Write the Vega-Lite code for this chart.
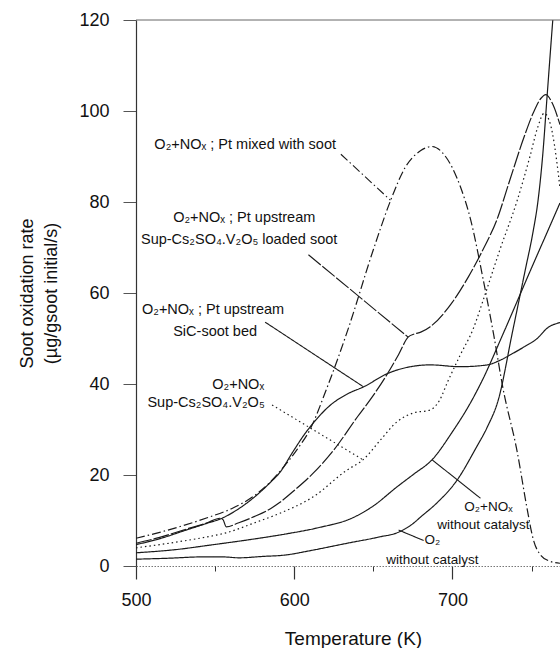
{
  "$schema": "https://vega.github.io/schema/vega-lite/v6.json",
  "width": 424,
  "height": 546,
  "autosize": {"type": "none"},
  "padding": {"left": 136, "top": 20, "right": 0, "bottom": 82},
  "background": "white",
  "config": {
    "view": {"stroke": null},
    "font": "Liberation Sans",
    "axis": {"grid": false, "labelFont": "Liberation Sans", "titleFont": "Liberation Sans", "labelColor": "#111", "titleColor": "#111", "titleFontWeight": "normal"},
    "axisY": {"tickSize": 13, "tickColor": "#555", "tickWidth": 1, "labelFontSize": 18, "labelPadding": 14, "domainColor": "#333", "domainWidth": 1.2, "titleFontSize": 18, "titleLineHeight": 24, "titleX": -100, "titleY": 273, "titleAngle": -90, "titleBaseline": "bottom", "titleAlign": "center"}
  },
  "datasets": {
    "curves": [
      {"s": "Pt mixed", "x": 500, "y": 6.1}, {"s": "Pt mixed", "x": 515, "y": 7.4}, {"s": "Pt mixed", "x": 530, "y": 8.9}, {"s": "Pt mixed", "x": 545, "y": 10.6}, {"s": "Pt mixed", "x": 561, "y": 12.7}, {"s": "Pt mixed", "x": 575, "y": 15.5}, {"s": "Pt mixed", "x": 585, "y": 18.5}, {"s": "Pt mixed", "x": 591, "y": 20.8}, {"s": "Pt mixed", "x": 602, "y": 25.7}, {"s": "Pt mixed", "x": 610, "y": 30}, {"s": "Pt mixed", "x": 620, "y": 38.5}, {"s": "Pt mixed", "x": 634, "y": 52}, {"s": "Pt mixed", "x": 650, "y": 69.5}, {"s": "Pt mixed", "x": 661, "y": 80.4}, {"s": "Pt mixed", "x": 670, "y": 87.5}, {"s": "Pt mixed", "x": 680, "y": 91.3}, {"s": "Pt mixed", "x": 687, "y": 92.2}, {"s": "Pt mixed", "x": 695, "y": 90.3}, {"s": "Pt mixed", "x": 705, "y": 83.4}, {"s": "Pt mixed", "x": 711, "y": 76.8}, {"s": "Pt mixed", "x": 720, "y": 62}, {"s": "Pt mixed", "x": 726, "y": 51}, {"s": "Pt mixed", "x": 732, "y": 39}, {"s": "Pt mixed", "x": 741, "y": 25}, {"s": "Pt mixed", "x": 747, "y": 13}, {"s": "Pt mixed", "x": 751, "y": 6}, {"s": "Pt mixed", "x": 756, "y": 2.3}, {"s": "Pt mixed", "x": 762, "y": 1}, {"s": "Pt mixed", "x": 768, "y": 0.6},

      {"s": "Pt upstream SiC", "x": 500, "y": 4.7}, {"s": "Pt upstream SiC", "x": 515, "y": 6.0}, {"s": "Pt upstream SiC", "x": 530, "y": 7.7}, {"s": "Pt upstream SiC", "x": 545, "y": 9.4}, {"s": "Pt upstream SiC", "x": 553, "y": 10.3}, {"s": "Pt upstream SiC", "x": 565, "y": 12.6}, {"s": "Pt upstream SiC", "x": 575, "y": 15.2}, {"s": "Pt upstream SiC", "x": 585, "y": 18.4}, {"s": "Pt upstream SiC", "x": 591, "y": 20.6}, {"s": "Pt upstream SiC", "x": 599, "y": 25}, {"s": "Pt upstream SiC", "x": 606, "y": 28.7}, {"s": "Pt upstream SiC", "x": 612, "y": 31.4}, {"s": "Pt upstream SiC", "x": 623, "y": 35.4}, {"s": "Pt upstream SiC", "x": 633, "y": 37.7}, {"s": "Pt upstream SiC", "x": 644, "y": 39.4}, {"s": "Pt upstream SiC", "x": 659, "y": 42.3}, {"s": "Pt upstream SiC", "x": 672, "y": 43.7}, {"s": "Pt upstream SiC", "x": 686, "y": 44.2}, {"s": "Pt upstream SiC", "x": 705, "y": 43.8}, {"s": "Pt upstream SiC", "x": 722, "y": 44.2}, {"s": "Pt upstream SiC", "x": 730, "y": 45.2}, {"s": "Pt upstream SiC", "x": 738.6, "y": 46.8}, {"s": "Pt upstream SiC", "x": 746, "y": 48.3}, {"s": "Pt upstream SiC", "x": 753.6, "y": 50}, {"s": "Pt upstream SiC", "x": 760, "y": 52.3}, {"s": "Pt upstream SiC", "x": 768, "y": 53.5},

      {"s": "Pt upstream loaded", "x": 500, "y": 5.0}, {"s": "Pt upstream loaded", "x": 515, "y": 6.3}, {"s": "Pt upstream loaded", "x": 530, "y": 7.9}, {"s": "Pt upstream loaded", "x": 545, "y": 9.5}, {"s": "Pt upstream loaded", "x": 553, "y": 10.5}, {"s": "Pt upstream loaded", "x": 555, "y": 10.2}, {"s": "Pt upstream loaded", "x": 557, "y": 8.6}, {"s": "Pt upstream loaded", "x": 565, "y": 9.5}, {"s": "Pt upstream loaded", "x": 575, "y": 10.9}, {"s": "Pt upstream loaded", "x": 585, "y": 12.6}, {"s": "Pt upstream loaded", "x": 591, "y": 14}, {"s": "Pt upstream loaded", "x": 600, "y": 16.6}, {"s": "Pt upstream loaded", "x": 612, "y": 20.4}, {"s": "Pt upstream loaded", "x": 625, "y": 25.5}, {"s": "Pt upstream loaded", "x": 640, "y": 32.8}, {"s": "Pt upstream loaded", "x": 650, "y": 37.5}, {"s": "Pt upstream loaded", "x": 659, "y": 42.3}, {"s": "Pt upstream loaded", "x": 666, "y": 46.5}, {"s": "Pt upstream loaded", "x": 672, "y": 50.3}, {"s": "Pt upstream loaded", "x": 676, "y": 51}, {"s": "Pt upstream loaded", "x": 680, "y": 51.4}, {"s": "Pt upstream loaded", "x": 686, "y": 52.6}, {"s": "Pt upstream loaded", "x": 700, "y": 58}, {"s": "Pt upstream loaded", "x": 710, "y": 63.5}, {"s": "Pt upstream loaded", "x": 720, "y": 70}, {"s": "Pt upstream loaded", "x": 728, "y": 76}, {"s": "Pt upstream loaded", "x": 736, "y": 84.5}, {"s": "Pt upstream loaded", "x": 745, "y": 94}, {"s": "Pt upstream loaded", "x": 751, "y": 99.5}, {"s": "Pt upstream loaded", "x": 756, "y": 102.8}, {"s": "Pt upstream loaded", "x": 759, "y": 103.6}, {"s": "Pt upstream loaded", "x": 763, "y": 101.8}, {"s": "Pt upstream loaded", "x": 768, "y": 97},

      {"s": "Sup-Cs", "x": 500, "y": 4.0}, {"s": "Sup-Cs", "x": 515, "y": 4.7}, {"s": "Sup-Cs", "x": 530, "y": 5.5}, {"s": "Sup-Cs", "x": 545, "y": 6.4}, {"s": "Sup-Cs", "x": 556, "y": 7.2}, {"s": "Sup-Cs", "x": 575, "y": 9.5}, {"s": "Sup-Cs", "x": 591, "y": 11.6}, {"s": "Sup-Cs", "x": 612, "y": 15.2}, {"s": "Sup-Cs", "x": 633, "y": 21}, {"s": "Sup-Cs", "x": 644, "y": 23.5}, {"s": "Sup-Cs", "x": 654.5, "y": 27.7}, {"s": "Sup-Cs", "x": 665, "y": 31.7}, {"s": "Sup-Cs", "x": 675, "y": 33.6}, {"s": "Sup-Cs", "x": 686, "y": 34.3}, {"s": "Sup-Cs", "x": 692, "y": 36.5}, {"s": "Sup-Cs", "x": 697, "y": 40.5}, {"s": "Sup-Cs", "x": 705, "y": 46.4}, {"s": "Sup-Cs", "x": 713, "y": 52}, {"s": "Sup-Cs", "x": 720, "y": 59}, {"s": "Sup-Cs", "x": 730, "y": 69.5}, {"s": "Sup-Cs", "x": 741, "y": 80.4}, {"s": "Sup-Cs", "x": 749, "y": 90}, {"s": "Sup-Cs", "x": 754, "y": 96.5}, {"s": "Sup-Cs", "x": 758, "y": 99.5}, {"s": "Sup-Cs", "x": 762, "y": 97}, {"s": "Sup-Cs", "x": 767, "y": 86}, {"s": "Sup-Cs", "x": 768, "y": 83},

      {"s": "O2+NOx", "x": 500, "y": 2.9}, {"s": "O2+NOx", "x": 525, "y": 3.6}, {"s": "O2+NOx", "x": 547, "y": 4.6}, {"s": "O2+NOx", "x": 570, "y": 5.7}, {"s": "O2+NOx", "x": 594, "y": 7}, {"s": "O2+NOx", "x": 615, "y": 8.4}, {"s": "O2+NOx", "x": 637, "y": 10.6}, {"s": "O2+NOx", "x": 650, "y": 13.2}, {"s": "O2+NOx", "x": 665, "y": 17.4}, {"s": "O2+NOx", "x": 676, "y": 20.3}, {"s": "O2+NOx", "x": 687, "y": 23.3}, {"s": "O2+NOx", "x": 700, "y": 29.5}, {"s": "O2+NOx", "x": 710, "y": 35}, {"s": "O2+NOx", "x": 719, "y": 40.9}, {"s": "O2+NOx", "x": 732, "y": 51}, {"s": "O2+NOx", "x": 749, "y": 64.7}, {"s": "O2+NOx", "x": 766, "y": 78.2}, {"s": "O2+NOx", "x": 768, "y": 79.8},

      {"s": "O2", "x": 500, "y": 1.5}, {"s": "O2", "x": 520, "y": 1.7}, {"s": "O2", "x": 542, "y": 2.0}, {"s": "O2", "x": 555, "y": 2.0}, {"s": "O2", "x": 565, "y": 1.8}, {"s": "O2", "x": 580, "y": 2.1}, {"s": "O2", "x": 594, "y": 2.4}, {"s": "O2", "x": 612, "y": 3.5}, {"s": "O2", "x": 633.5, "y": 5.0}, {"s": "O2", "x": 654, "y": 6.4}, {"s": "O2", "x": 665, "y": 7.3}, {"s": "O2", "x": 675, "y": 9.3}, {"s": "O2", "x": 680, "y": 10.8}, {"s": "O2", "x": 690, "y": 13.8}, {"s": "O2", "x": 703, "y": 18.9}, {"s": "O2", "x": 715, "y": 26}, {"s": "O2", "x": 722, "y": 30.5}, {"s": "O2", "x": 729, "y": 36.5}, {"s": "O2", "x": 738, "y": 51.5}, {"s": "O2", "x": 746, "y": 65}, {"s": "O2", "x": 751, "y": 73.5}, {"s": "O2", "x": 754, "y": 80}, {"s": "O2", "x": 757, "y": 90}, {"s": "O2", "x": 760, "y": 104}, {"s": "O2", "x": 763, "y": 118}, {"s": "O2", "x": 768, "y": 140}
    ],
    "leaders": [
      {"s": "Pt mixed", "x": 629.5, "y": 90.5, "x2": 660.8, "y2": 80.4},
      {"s": "Pt upstream loaded", "x": 609, "y": 68.4, "x2": 672, "y2": 50.3},
      {"s": "Pt upstream SiC", "x": 581.6, "y": 53.6, "x2": 643.7, "y2": 39.4},
      {"s": "Sup-Cs", "x": 586, "y": 35.4, "x2": 643.7, "y2": 23.3},
      {"s": "O2+NOx", "x": 687.3, "y": 23.3, "x2": 717.7, "y2": 14.9},
      {"s": "O2", "x": 666, "y": 7.9, "x2": 681.8, "y2": 5.6}
    ],
    "labels": [
      {"t": "O₂+NOₓ ; Pt mixed with soot", "x": 569, "y": 92.5, "g": "upper"},
      {"t": "O₂+NOₓ ; Pt upstream", "x": 568.4, "y": 76.5, "g": "upper"},
      {"t": "Sup-Cs₂SO₄.V₂O₅ loaded soot", "x": 565.2, "y": 71.6, "g": "upper"},
      {"t": "O₂+NOₓ ; Pt upstream", "x": 548.7, "y": 56.3, "g": "upper"},
      {"t": "SiC-soot bed", "x": 550, "y": 51.4, "g": "upper"},
      {"t": "O₂+NOₓ", "x": 564.6, "y": 39.8, "g": "upper"},
      {"t": "Sup-Cs₂SO₄.V₂O₅", "x": 544.3, "y": 35.8, "g": "upper"},
      {"t": "O₂+NOₓ", "x": 722.8, "y": 13.0, "g": "lower"},
      {"t": "without catalyst", "x": 719.6, "y": 9.0, "g": "lower"},
      {"t": "O₂", "x": 687.3, "y": 5.7, "g": "lower"},
      {"t": "without catalyst", "x": 687.3, "y": 1.3, "g": "lower"}
    ],
    "frame": [{"y": 120}]
  },
  "resolve": {"axis": {"x": "independent"}},
  "layer": [
    {
      "data": {"name": "curves"},
      "mark": {"type": "line", "clip": true, "interpolate": "monotone", "strokeWidth": 1.2, "color": "#1a1a1a"},
      "encoding": {
        "x": {"field": "x", "type": "quantitative",
              "scale": {"domain": [500, 768], "nice": false, "zero": false},
              "axis": {"orient": "bottom", "values": [500, 600, 700], "tickSize": 13, "tickColor": "#333", "tickWidth": 1.2,
                       "labelFontSize": 18, "labelPadding": 12, "labelFlush": false, "domain": true, "domainColor": "#777", "domainDash": [1.5, 1.5], "domainWidth": 1,
                       "title": "Temperature (K)", "titleFontSize": 19, "titleX": 217, "titleY": 78, "titleBaseline": "alphabetic"}},
        "y": {"field": "y", "type": "quantitative",
              "scale": {"domain": [0, 120], "nice": false},
              "axis": {"values": [0, 20, 40, 60, 80, 100, 120], "title": ["Soot oxidation rate", "(µg/gsoot initial/s)"]}},
        "detail": {"field": "s"},
        "strokeDash": {"field": "s", "type": "nominal", "legend": null,
                       "scale": {"domain": ["Pt mixed", "Pt upstream loaded", "Pt upstream SiC", "Sup-Cs", "O2+NOx", "O2"],
                                 "range": [[9, 3, 1.5, 3], [16, 2], [1, 0], [1.5, 3], [1, 0], [1, 0]]}}
      }
    },
    {
      "data": {"name": "leaders"},
      "mark": {"type": "rule", "strokeWidth": 1.1, "color": "#1a1a1a"},
      "encoding": {
        "x": {"field": "x", "type": "quantitative",
              "axis": {"orient": "bottom", "values": [550, 650, 750], "tickSize": 5, "tickColor": "#333", "labels": false, "domain": false, "title": null}},
        "y": {"field": "y", "type": "quantitative"},
        "x2": {"field": "x2"},
        "y2": {"field": "y2"},
        "strokeDash": {"field": "s", "type": "nominal", "legend": null}
      }
    },
    {
      "data": {"name": "frame"},
      "mark": {"type": "rule", "color": "#666", "strokeWidth": 1},
      "encoding": {"y": {"field": "y", "type": "quantitative"}}
    },
    {
      "data": {"name": "labels"},
      "mark": {"type": "text", "font": "Liberation Sans", "color": "#111", "align": "center", "baseline": "middle"},
      "encoding": {
        "x": {"field": "x", "type": "quantitative", "axis": null},
        "y": {"field": "y", "type": "quantitative"},
        "text": {"field": "t"},
        "size": {"field": "g", "type": "nominal", "legend": null, "scale": {"domain": ["upper", "lower"], "range": [14.5, 13.5]}}
      }
    }
  ]
}
